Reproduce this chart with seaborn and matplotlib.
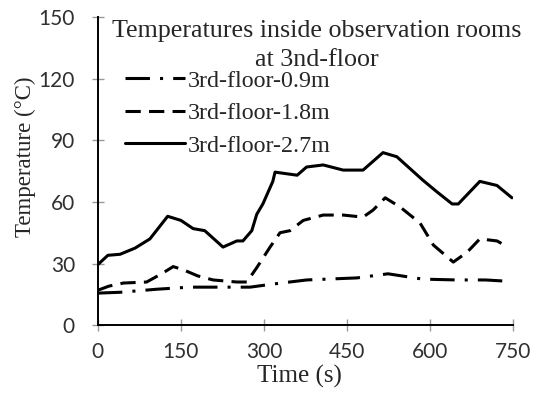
import numpy as np
import pandas as pd
import matplotlib.pyplot as plt
import seaborn as sns

# readings taken off the chart (time in s, temperature in oC)
t_09 = [0, 40, 107, 166, 226, 275, 316, 377, 468, 524, 587, 649, 700, 732]
temp_09 = [15.6, 16, 17.5, 18.5, 18.5, 18.5, 20, 22, 23, 25, 22.4, 22, 22, 21.5]

t_18 = [0, 20, 46, 88, 115, 136, 154, 180, 208, 251, 269, 287, 311, 329, 347, 371,
        407, 443, 479, 497, 519, 546, 582, 606, 642, 667, 690, 721, 741]
temp_18 = [17, 19, 20.5, 21, 25, 28.5, 27, 24, 22, 21, 21, 28, 38, 45, 46, 51,
           53.6, 53.6, 52.6, 56, 62, 57.5, 49.7, 39, 30.7, 35.5, 42, 41, 38]

t_27 = [0, 18, 40, 67, 94, 126, 150, 172, 193, 226, 251, 262, 278, 287, 298, 316,
        320, 360, 377, 407, 443, 479, 515, 540, 587, 612, 640, 651, 690, 721, 748]
temp_27 = [29.5, 34, 34.5, 37.5, 42, 53, 51, 47, 46, 38, 41, 41, 46, 54, 59, 70,
           74.5, 73, 77, 78, 75.5, 75.5, 84, 82, 70.6, 65, 59, 59, 70, 68, 62]

labels = ["3rd-floor-0.9m", "3rd-floor-1.8m", "3rd-floor-2.7m"]

sns.set_style("white")
serif = ["Liberation Serif", "DejaVu Serif"]
plt.rcParams["font.family"] = ["Lato", "DejaVu Sans"]

fig = plt.figure(figsize=(5.35, 3.97), dpi=100)
ax = fig.add_axes([0.183, 0.181, 0.776, 0.776])

sns.lineplot(x=t_09, y=temp_09, ax=ax, color="black", lw=2.2, label=labels[0])
sns.lineplot(x=t_18, y=temp_18, ax=ax, color="black", lw=2.2, label=labels[1])
sns.lineplot(x=t_27, y=temp_27, ax=ax, color="black", lw=2.2, label=labels[2])
ax.lines[0].set_dashes([8, 3.3, 1, 3.3])
ax.lines[1].set_dashes([5, 2.7])

ax.set_xlim(0, 750)
ax.set_ylim(0, 150)
ax.set_xticks(np.arange(0, 751, 150))
ax.set_yticks(np.arange(0, 151, 30))
ax.tick_params(direction="inout", length=9, width=1, color="#999999",
               labelsize=15, labelcolor="#303030", bottom=True, left=True)
ax.tick_params(axis="x", pad=7.5)
ax.tick_params(axis="y", pad=12)
for s in ["top", "right"]:
    ax.spines[s].set_visible(False)
for s in ["left", "bottom"]:
    ax.spines[s].set_color("black")
    ax.spines[s].set_linewidth(1.4)

ax.set_xlabel("Time (s)", family=serif, fontsize=18)
ax.set_ylabel("Temperature (\u00b0C)", family=serif, fontsize=16.5)
ax.xaxis.set_label_coords(0.485, -0.13)
ax.yaxis.set_label_coords(-0.15, 0.545)

ax.text(0.527, 0.99, "Temperatures inside observation rooms\nat 3nd-floor",
        transform=ax.transAxes, ha="center", va="top", family=serif,
        fontsize=18.7, linespacing=1.38)

leg = ax.legend(loc="upper left", bbox_to_anchor=(0.042, 0.86), frameon=False,
                prop={"family": serif, "size": 17.3}, handlelength=2.5,
                handletextpad=0.12, labelspacing=0.45, borderaxespad=0)

fig.savefig("out.png", dpi=100)
